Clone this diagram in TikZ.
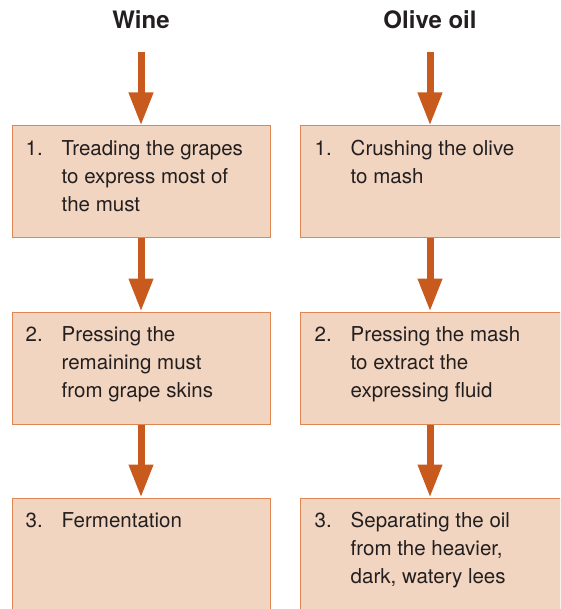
\documentclass[tikz,border=0pt]{standalone}
\usepackage{fontspec}
\setmainfont{TeX Gyre Heros}
\usetikzlibrary{arrows.meta}

\definecolor{boxfill}{RGB}{242,213,192}
\definecolor{boxline}{RGB}{222,135,85}
\definecolor{arrowcol}{RGB}{200,90,30}
\definecolor{textcol}{RGB}{35,31,32}

\newcommand{\steptext}[1]{\begin{tabular}[t]{@{}l@{}}#1\end{tabular}}

\begin{document}
\begin{tikzpicture}[x=1pt, y=-1pt,
    stepbox/.style = {draw=boxline, fill=boxfill, line width=1pt, minimum height=112pt, inner sep=0pt},
    num/.style = {anchor=base west, inner sep=0pt, font=\fontsize{20.5}{28}\selectfont, text=textcol},
    head/.style = {font=\fontsize{24}{28}\selectfont\bfseries, text=textcol},
    flow/.style = {draw=arrowcol, fill=arrowcol, line width=7pt, -{Triangle[width=23pt, length=33pt]}}]
    \clip (0,0) rectangle (560,609);

    \node[head](wine) at (141,20){Wine};
    \node[head](oil) at (430,20){Olive oil};
    \coordinate (wine0) at (141,52);
    \coordinate (oil0) at (430,52);

    % wine column
    \node[stepbox, minimum width=258pt](w1) at (141,182){};
    \node[stepbox, minimum width=258pt](w2) at (141,368){};
    \node[stepbox, minimum width=258pt](w3) at (141,554){};

    % olive oil column
    \node[stepbox, minimum width=260pt](o1) at (430,182){};
    \node[stepbox, minimum width=260pt](o2) at (430,368){};
    \node[stepbox, minimum width=260pt](o3) at (430,554){};

    \node[num] at ([shift={(14,30)}]w1.north west){1.};
    \node[num] at ([shift={(50,30)}]w1.north west){\steptext{Treading the grapes\\to express most of\\the must}};
    \node[num] at ([shift={(14,30)}]w2.north west){2.};
    \node[num] at ([shift={(50,30)}]w2.north west){\steptext{Pressing the\\remaining must\\from grape skins}};
    \node[num] at ([shift={(14,30)}]w3.north west){3.};
    \node[num] at ([shift={(50,30)}]w3.north west){\steptext{Fermentation}};

    \node[num] at ([shift={(15,30)}]o1.north west){1.};
    \node[num] at ([shift={(51,30)}]o1.north west){\steptext{Crushing the olive\\to mash}};
    \node[num] at ([shift={(15,30)}]o2.north west){2.};
    \node[num] at ([shift={(51,30)}]o2.north west){\steptext{Pressing the mash\\to extract the\\expressing fluid}};
    \node[num] at ([shift={(15,30)}]o3.north west){3.};
    \node[num] at ([shift={(51,30)}]o3.north west){\steptext{Separating the oil\\from the heavier,\\dark, watery lees}};

    \draw[flow] (wine0) -- (w1.north);
    \draw[flow] (w1) -- (w2);
    \draw[flow] (w2) -- (w3);
    \draw[flow] (oil0) -- (o1.north);
    \draw[flow] (o1) -- (o2);
    \draw[flow] (o2) -- (o3);
\end{tikzpicture}
\end{document}
